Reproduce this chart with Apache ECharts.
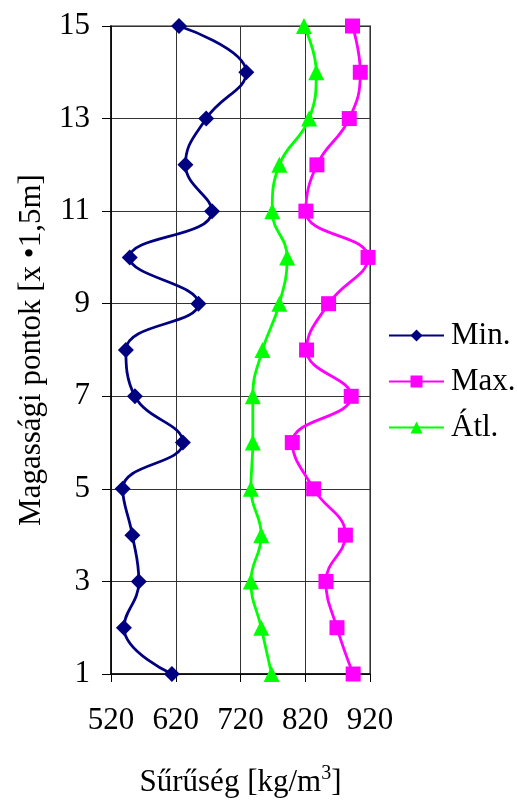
<!DOCTYPE html>
<html>
<head>
<meta charset="utf-8">
<script src="https://cdn.jsdelivr.net/npm/echarts@6/dist/echarts.min.js"></script>
<style>
  html, body { margin: 0; padding: 0; background: #fff; }
  #main { width: 517px; height: 803px; }
</style>
</head>
<body>
<div id="main"></div>
<script>
// magassági pontok (1..15)
var pontok = [1, 2, 3, 4, 5, 6, 7, 8, 9, 10, 11, 12, 13, 14, 15];
var minErtek = [614, 540, 563, 553, 538, 631, 557, 543, 655, 549, 676, 635, 667, 729, 625];
var maxErtek = [894, 869, 852, 882, 833, 800, 891, 822, 856, 917, 821, 838, 888, 905, 893];
var atlErtek = [768, 752, 736, 752, 736, 739, 739, 754, 780, 792, 769, 780, 826, 837, 818];
var xTicks = [520, 620, 720, 820, 920];
var yTicks = [1, 3, 5, 7, 9, 11, 13, 15];

function pairs(vals) {
    return vals.map(function (v, i) { return [v, pontok[i]]; });
}

var font = 'Liberation Serif';
var myChart = echarts.init(document.getElementById('main'));
myChart.setOption({
    animation: false,
    textStyle: { fontFamily: font },
    grid: {
        left: 111, right: 147, top: 26, bottom: 127,
        show: true,
        borderColor: '#8c8c8c',
        borderWidth: 2
    },
    legend: {
        orient: 'vertical',
        left: 388,
        top: 320,
        padding: 0,
        itemWidth: 55,
        itemHeight: 15,
        itemGap: 15,
        textStyle: { fontFamily: font, fontSize: 31, color: '#000', lineHeight: 31, padding: [0, 0, 0, 2] },
        data: ['Min.', 'Max.', 'Átl.']
    },
    xAxis: {
        type: 'value',
        min: xTicks[0],
        max: xTicks[xTicks.length - 1],
        interval: 100,
        name: 'Sűrűség [kg/m{sup|3}]',
        nameLocation: 'middle',
        nameGap: 90,
        nameTextStyle: {
            fontFamily: font, fontSize: 31, color: '#000',
            rich: {
                sup: { fontFamily: font, fontSize: 20, color: '#000', padding: [0, 0, 17, 0] }
            }
        },
        axisLine: { show: true, lineStyle: { color: '#000', width: 1.5 } },
        axisTick: { show: true, length: 8, inside: false, lineStyle: { color: '#000' } },
        axisLabel: { margin: 31, fontFamily: font, fontSize: 31, color: '#000' },
        splitLine: { show: true, lineStyle: { color: '#333', width: 1 } }
    },
    yAxis: {
        type: 'value',
        min: yTicks[0],
        max: yTicks[yTicks.length - 1],
        interval: 2,
        name: 'Magassági pontok [x •1,5m]',
        nameLocation: 'middle',
        nameGap: 64,
        nameTextStyle: { fontFamily: font, fontSize: 31, color: '#000' },
        axisLine: { show: true, lineStyle: { color: '#000', width: 1.5 } },
        axisTick: { show: true, length: 9, inside: false, lineStyle: { color: '#000' } },
        axisLabel: { margin: 21, fontFamily: font, fontSize: 31, color: '#000' },
        splitLine: { show: true, lineStyle: { color: '#333', width: 1 } }
    },
    series: [
        {
            name: 'Min.',
            type: 'line',
            smooth: 0.45,
            data: pairs(minErtek),
            symbol: 'diamond',
            symbolSize: 16,
            color: '#000080',
            lineStyle: { width: 2.8, color: '#000080' },
            itemStyle: { color: '#000080' }
        },
        {
            name: 'Max.',
            type: 'line',
            smooth: 0.45,
            data: pairs(maxErtek),
            symbol: 'rect',
            symbolSize: 15,
            color: '#ff00ff',
            lineStyle: { width: 2.8, color: '#ff00ff' },
            itemStyle: { color: '#ff00ff' }
        },
        {
            name: 'Átl.',
            type: 'line',
            smooth: 0.45,
            data: pairs(atlErtek),
            symbol: 'triangle',
            symbolSize: 16,
            color: '#00ff00',
            lineStyle: { width: 2.8, color: '#00ff00' },
            itemStyle: { color: '#00ff00' }
        }
    ]
});
</script>
</body>
</html>
